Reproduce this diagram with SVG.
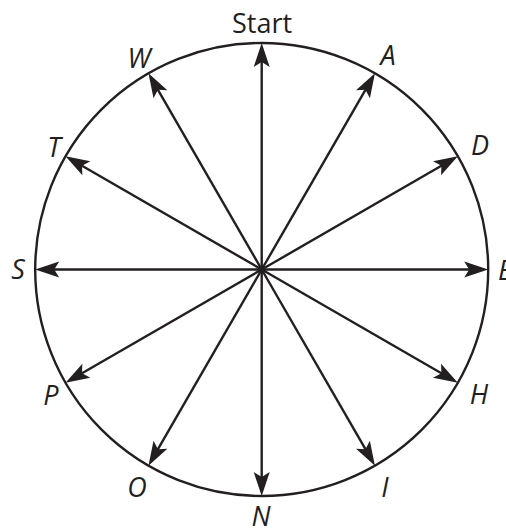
<svg xmlns="http://www.w3.org/2000/svg" width="506" height="529" viewBox="0 0 506 529">
<style>
.lbl{font-family:"Open Sans","Liberation Sans",sans-serif;font-size:27px;font-style:italic;fill:#231f20;text-anchor:middle}
.start{font-family:"Open Sans","Liberation Sans",sans-serif;font-size:27px;fill:#231f20;text-anchor:middle}
.spoke{stroke:#231f20;stroke-width:2.4;fill:none}
.head{fill:#231f20}
</style>
<defs>
<path id="ah" class="head" d="M0,0 L8,24 L0,19 L-8,24 Z" transform="translate(261.7,43)"/>
</defs>
<rect width="506" height="529" fill="#ffffff"/>
<circle id="rim" cx="261.7" cy="269.5" r="226.5" fill="none" stroke="#231f20" stroke-width="2.4"/>
<g id="connectors">
<g id="spokes">
<line class="spoke" x1="261.7" y1="269.5" x2="261.7" y2="60" transform="rotate(0,261.7,269.5)"/>
<line class="spoke" x1="261.7" y1="269.5" x2="261.7" y2="60" transform="rotate(30,261.7,269.5)"/>
<line class="spoke" x1="261.7" y1="269.5" x2="261.7" y2="60" transform="rotate(60,261.7,269.5)"/>
<line class="spoke" x1="261.7" y1="269.5" x2="261.7" y2="60" transform="rotate(90,261.7,269.5)"/>
<line class="spoke" x1="261.7" y1="269.5" x2="261.7" y2="60" transform="rotate(120,261.7,269.5)"/>
<line class="spoke" x1="261.7" y1="269.5" x2="261.7" y2="60" transform="rotate(150,261.7,269.5)"/>
<line class="spoke" x1="261.7" y1="269.5" x2="261.7" y2="60" transform="rotate(180,261.7,269.5)"/>
<line class="spoke" x1="261.7" y1="269.5" x2="261.7" y2="60" transform="rotate(210,261.7,269.5)"/>
<line class="spoke" x1="261.7" y1="269.5" x2="261.7" y2="60" transform="rotate(240,261.7,269.5)"/>
<line class="spoke" x1="261.7" y1="269.5" x2="261.7" y2="60" transform="rotate(270,261.7,269.5)"/>
<line class="spoke" x1="261.7" y1="269.5" x2="261.7" y2="60" transform="rotate(300,261.7,269.5)"/>
<line class="spoke" x1="261.7" y1="269.5" x2="261.7" y2="60" transform="rotate(330,261.7,269.5)"/>
</g>
<g id="heads">
<use href="#ah" transform="rotate(0,261.7,269.5)"/>
<use href="#ah" transform="rotate(30,261.7,269.5)"/>
<use href="#ah" transform="rotate(60,261.7,269.5)"/>
<use href="#ah" transform="rotate(90,261.7,269.5)"/>
<use href="#ah" transform="rotate(120,261.7,269.5)"/>
<use href="#ah" transform="rotate(150,261.7,269.5)"/>
<use href="#ah" transform="rotate(180,261.7,269.5)"/>
<use href="#ah" transform="rotate(210,261.7,269.5)"/>
<use href="#ah" transform="rotate(240,261.7,269.5)"/>
<use href="#ah" transform="rotate(270,261.7,269.5)"/>
<use href="#ah" transform="rotate(300,261.7,269.5)"/>
<use href="#ah" transform="rotate(330,261.7,269.5)"/>
</g>
<circle cx="261.7" cy="269.5" r="3" fill="#231f20"/>
</g>
<g id="node-start"><text class="start" x="262" y="33">Start</text></g>
<g id="node-A"><text class="lbl" x="388" y="65">A</text></g>
<g id="node-D"><text class="lbl" x="480" y="155">D</text></g>
<g id="node-E"><text class="lbl" x="498" y="280" style="text-anchor:start">E</text></g>
<g id="node-H"><text class="lbl" x="479" y="404">H</text></g>
<g id="node-I"><text class="lbl" x="385" y="497">I</text></g>
<g id="node-N"><text class="lbl" x="261" y="526">N</text></g>
<g id="node-O"><text class="lbl" x="137" y="497">O</text></g>
<g id="node-P"><text class="lbl" x="51" y="405">P</text></g>
<g id="node-S"><text class="lbl" x="18" y="279">S</text></g>
<g id="node-T"><text class="lbl" x="54" y="157">T</text></g>
<g id="node-W"><text class="lbl" x="139" y="68">W</text></g>
</svg>
